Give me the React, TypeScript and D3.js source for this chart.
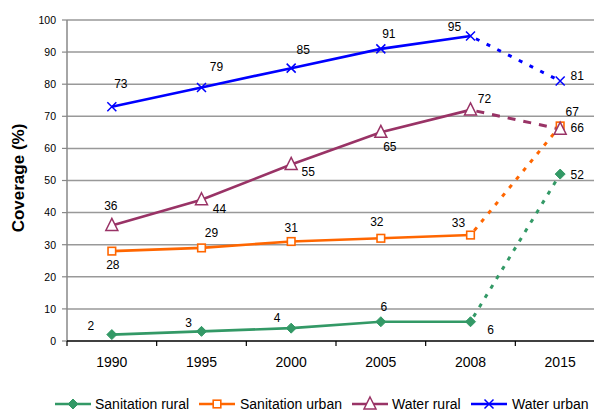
import React from "react";
import * as d3 from "d3";

const years = ["1990", "1995", "2000", "2005", "2008", "2015"];
const yTicks = [0, 10, 20, 30, 40, 50, 60, 70, 80, 90, 100];
const sanitationRural = [2, 3, 4, 6, 6, 52];
const sanitationUrban = [28, 29, 31, 32, 33, 67];
const waterRural = [36, 44, 55, 65, 72, 66];
const waterUrban = [73, 79, 85, 91, 95, 81];

type Series = {
  name: string;
  values: number[];
  color: string;
  marker: "diamond" | "square" | "triangle" | "x";
  dash: string;
  labelOff: [number, number][];
};

const series: Series[] = [
  {
    name: "Sanitation rural",
    values: sanitationRural,
    color: "#339966",
    marker: "diamond",
    dash: "4 7",
    labelOff: [[-21, -9], [-13, -8.5], [-14, -10], [3, -15], [20, 8], [17, 1]],
  },
  {
    name: "Sanitation urban",
    values: sanitationUrban,
    color: "#FF6600",
    marker: "square",
    dash: "4 7",
    labelOff: [[1, 14], [10, -15], [0, -14], [-4, -17], [-12, -12], [12, -14]],
  },
  {
    name: "Water rural",
    values: waterRural,
    color: "#993366",
    marker: "triangle",
    dash: "8 8",
    labelOff: [[-1, -20], [18, 9], [17, 7], [9, 14], [14, -11], [17, -1]],
  },
  {
    name: "Water urban",
    values: waterUrban,
    color: "#0000FF",
    marker: "x",
    dash: "4 8",
    labelOff: [[9, -23], [15, -21], [12, -18], [8, -15], [-16, -9], [17, -5]],
  },
];

const W = 594;
const H = 411;
const left = 67;
const right = 605;
const top = 20;
const bottom = 341;

function Marker({ type, x, y, color }: { type: string; x: number; y: number; color: string }) {
  if (type === "diamond") {
    const s = 5;
    return (
      <path
        d={`M${x},${y - s}L${x + s},${y}L${x},${y + s}L${x - s},${y}Z`}
        fill={color}
        stroke={color}
        strokeWidth={1}
      />
    );
  }
  if (type === "square") {
    const s = 3.8;
    return <rect x={x - s} y={y - s} width={2 * s} height={2 * s} fill="#fff" stroke={color} strokeWidth={1.6} />;
  }
  if (type === "triangle") {
    const s = 6;
    return (
      <path
        d={`M${x},${y - s - 1}L${x + s},${y + s - 1}L${x - s},${y + s - 1}Z`}
        fill="#fff"
        stroke={color}
        strokeWidth={1.5}
      />
    );
  }
  const s = 4.5;
  return (
    <path
      d={`M${x - s},${y - s}L${x + s},${y + s}M${x - s},${y + s}L${x + s},${y - s}`}
      stroke={color}
      strokeWidth={1.5}
      fill="none"
    />
  );
}

export default function App() {
  const x = d3.scaleBand<string>().domain(years).range([left, right]);
  const y = d3.scaleLinear().domain([0, 100]).range([bottom, top]);
  const cx = (i: number) => (x(years[i]) as number) + x.bandwidth() / 2;
  const line = d3
    .line<number>()
    .x((_, i) => cx(i))
    .y((d) => y(d));

  const font = "Arial, 'Liberation Sans', sans-serif";

  const legendItems = [
    { lx: 55, tx: 95 },
    { lx: 199, tx: 240 },
    { lx: 352, tx: 392 },
    { lx: 471, tx: 512 },
  ];

  return (
    <svg
      width={W}
      height={H}
      style={{ position: "absolute", left: 0, top: 0, background: "#fff" }}
      fontFamily={font}
    >
      {/* gridlines */}
      {yTicks.slice(1).map((t) => (
        <line key={t} x1={left} x2={right} y1={y(t)} y2={y(t)} stroke="#999999" strokeWidth={1.5} />
      ))}
      {/* y axis */}
      <line x1={left} x2={left} y1={top} y2={bottom} stroke="#888" strokeWidth={1.5} />
      {yTicks.map((t) => (
        <g key={t}>
          <line x1={left - 5} x2={left} y1={y(t)} y2={y(t)} stroke="#888" strokeWidth={1.2} />
          <text x={56} y={y(t) + 3.8} fontSize={10.5} textAnchor="end" fill="#000">
            {t}
          </text>
        </g>
      ))}
      {/* x axis */}
      <line x1={left} x2={right} y1={bottom} y2={bottom} stroke="#000" strokeWidth={1.5} />
      {years.map((yr, i) => (
        <g key={yr}>
          <line
            x1={x(yr) as number}
            x2={x(yr) as number}
            y1={bottom}
            y2={bottom + 5}
            stroke="#000"
            strokeWidth={1.2}
          />
          <text x={cx(i)} y={366.5} fontSize={14} textAnchor="middle">
            {yr}
          </text>
        </g>
      ))}
      <text transform={`translate(24,178) rotate(-90)`} textAnchor="middle" fontSize={17} fontWeight="bold">
        Coverage (%)
      </text>

      {/* lines */}
      {series.map((s) => (
        <g key={s.name}>
          <path d={line(s.values.slice(0, 5)) || ""} fill="none" stroke={s.color} strokeWidth={2.6} />
          <path
            d={`M${cx(4)},${y(s.values[4])}L${cx(5)},${y(s.values[5])}`}
            fill="none"
            stroke={s.color}
            strokeWidth={3}
            strokeDasharray={s.dash}
            strokeDashoffset={-6}
          />
        </g>
      ))}
      {/* markers */}
      {series.map((s) => (
        <g key={s.name + "m"}>
          {s.values.map((v, i) => (
            <Marker key={i} type={s.marker} x={cx(i)} y={y(v)} color={s.color} />
          ))}
        </g>
      ))}
      {/* labels */}
      {series.map((s) => (
        <g key={s.name + "l"}>
          {s.values.map((v, i) => (
            <text
              key={i}
              x={cx(i) + s.labelOff[i][0]}
              y={y(v) + s.labelOff[i][1] + 4.3}
              fontSize={12}
              textAnchor="middle"
            >
              {v}
            </text>
          ))}
        </g>
      ))}

      {/* legend */}
      {series.map((s, k) => {
        const it = legendItems[k];
        const ly = 404;
        return (
          <g key={s.name + "leg"}>
            <line x1={it.lx} x2={it.lx + 36} y1={ly} y2={ly} stroke={s.color} strokeWidth={2.6} />
            <Marker type={s.marker} x={it.lx + 18} y={ly} color={s.color} />
            <text x={it.tx} y={ly + 5} fontSize={14}>
              {s.name}
            </text>
          </g>
        );
      })}
    </svg>
  );
}
